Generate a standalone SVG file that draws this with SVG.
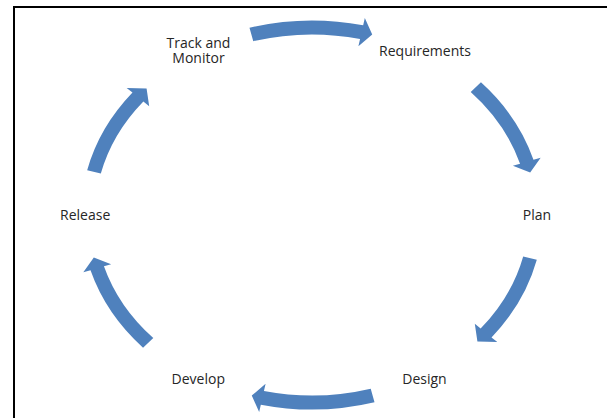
<svg xmlns="http://www.w3.org/2000/svg" width="607" height="418" viewBox="0 0 607 418">
  <style>
    .arrow { fill: #4F81BD; stroke: none; }
    .lbl { font-family: "Open Sans", "Liberation Sans", sans-serif; font-size: 14px; fill: #262626; text-anchor: middle; }
    .frame { fill: none; stroke: #000000; stroke-width: 2; }
  </style>
  <rect x="0" y="0" width="607" height="418" fill="#FFFFFF"/>
  <path class="frame" d="M14,419 V7 H608"/>

  <g id="connectors">
    <path id="arrow-track-requirements" class="arrow" d="M249.49,27.75 A231,194.5 0 0,1 363.17,25.34 L364.83,18.03 L372.23,34.4 L358.40,46.31 L360.07,39.0 A217,180.5 0 0,0 253.28,41.23 Z"/>
    <path id="arrow-requirements-plan" class="arrow" d="M480.95,82.35 A231,194.5 0 0,1 533.48,159.76 L540.67,157.63 L530.18,172.49 L512.87,165.87 L520.06,163.74 A217,180.5 0 0,0 470.71,91.90 Z"/>
    <path id="arrow-plan-design" class="arrow" d="M536.81,259.74 A231,194.5 0 0,1 491.51,337.40 L497.34,342.12 L477.42,341.43 L474.80,323.87 L480.63,328.59 A217,180.5 0 0,0 523.18,256.52 Z"/>
    <path id="arrow-design-develop" class="arrow" d="M374.51,402.25 A231,194.5 0 0,1 260.83,404.66 L259.17,411.97 L251.77,395.6 L265.60,383.69 L263.93,391.0 A217,180.5 0 0,0 370.72,388.77 Z"/>
    <path id="arrow-develop-release" class="arrow" d="M143.05,347.65 A231,194.5 0 0,1 90.52,270.24 L83.33,272.37 L93.82,257.51 L111.13,264.13 L103.94,266.26 A217,180.5 0 0,0 153.29,338.10 Z"/>
    <path id="arrow-release-track" class="arrow" d="M87.19,170.26 A231,194.5 0 0,1 132.49,92.60 L126.66,87.88 L146.58,88.57 L149.20,106.13 L143.37,101.41 A217,180.5 0 0,0 100.82,173.48 Z"/>
  </g>

  <g id="node-requirements"><text class="lbl" x="425" y="56">Requirements</text></g>
  <g id="node-plan"><text class="lbl" x="537" y="220">Plan</text></g>
  <g id="node-design"><text class="lbl" x="424.5" y="384">Design</text></g>
  <g id="node-develop"><text class="lbl" x="198.3" y="384">Develop</text></g>
  <g id="node-release"><text class="lbl" x="85.2" y="220">Release</text></g>
  <g id="node-track"><text class="lbl"><tspan x="198.5" y="48.3">Track and</tspan><tspan x="198.5" y="62.7">Monitor</tspan></text></g>
</svg>
